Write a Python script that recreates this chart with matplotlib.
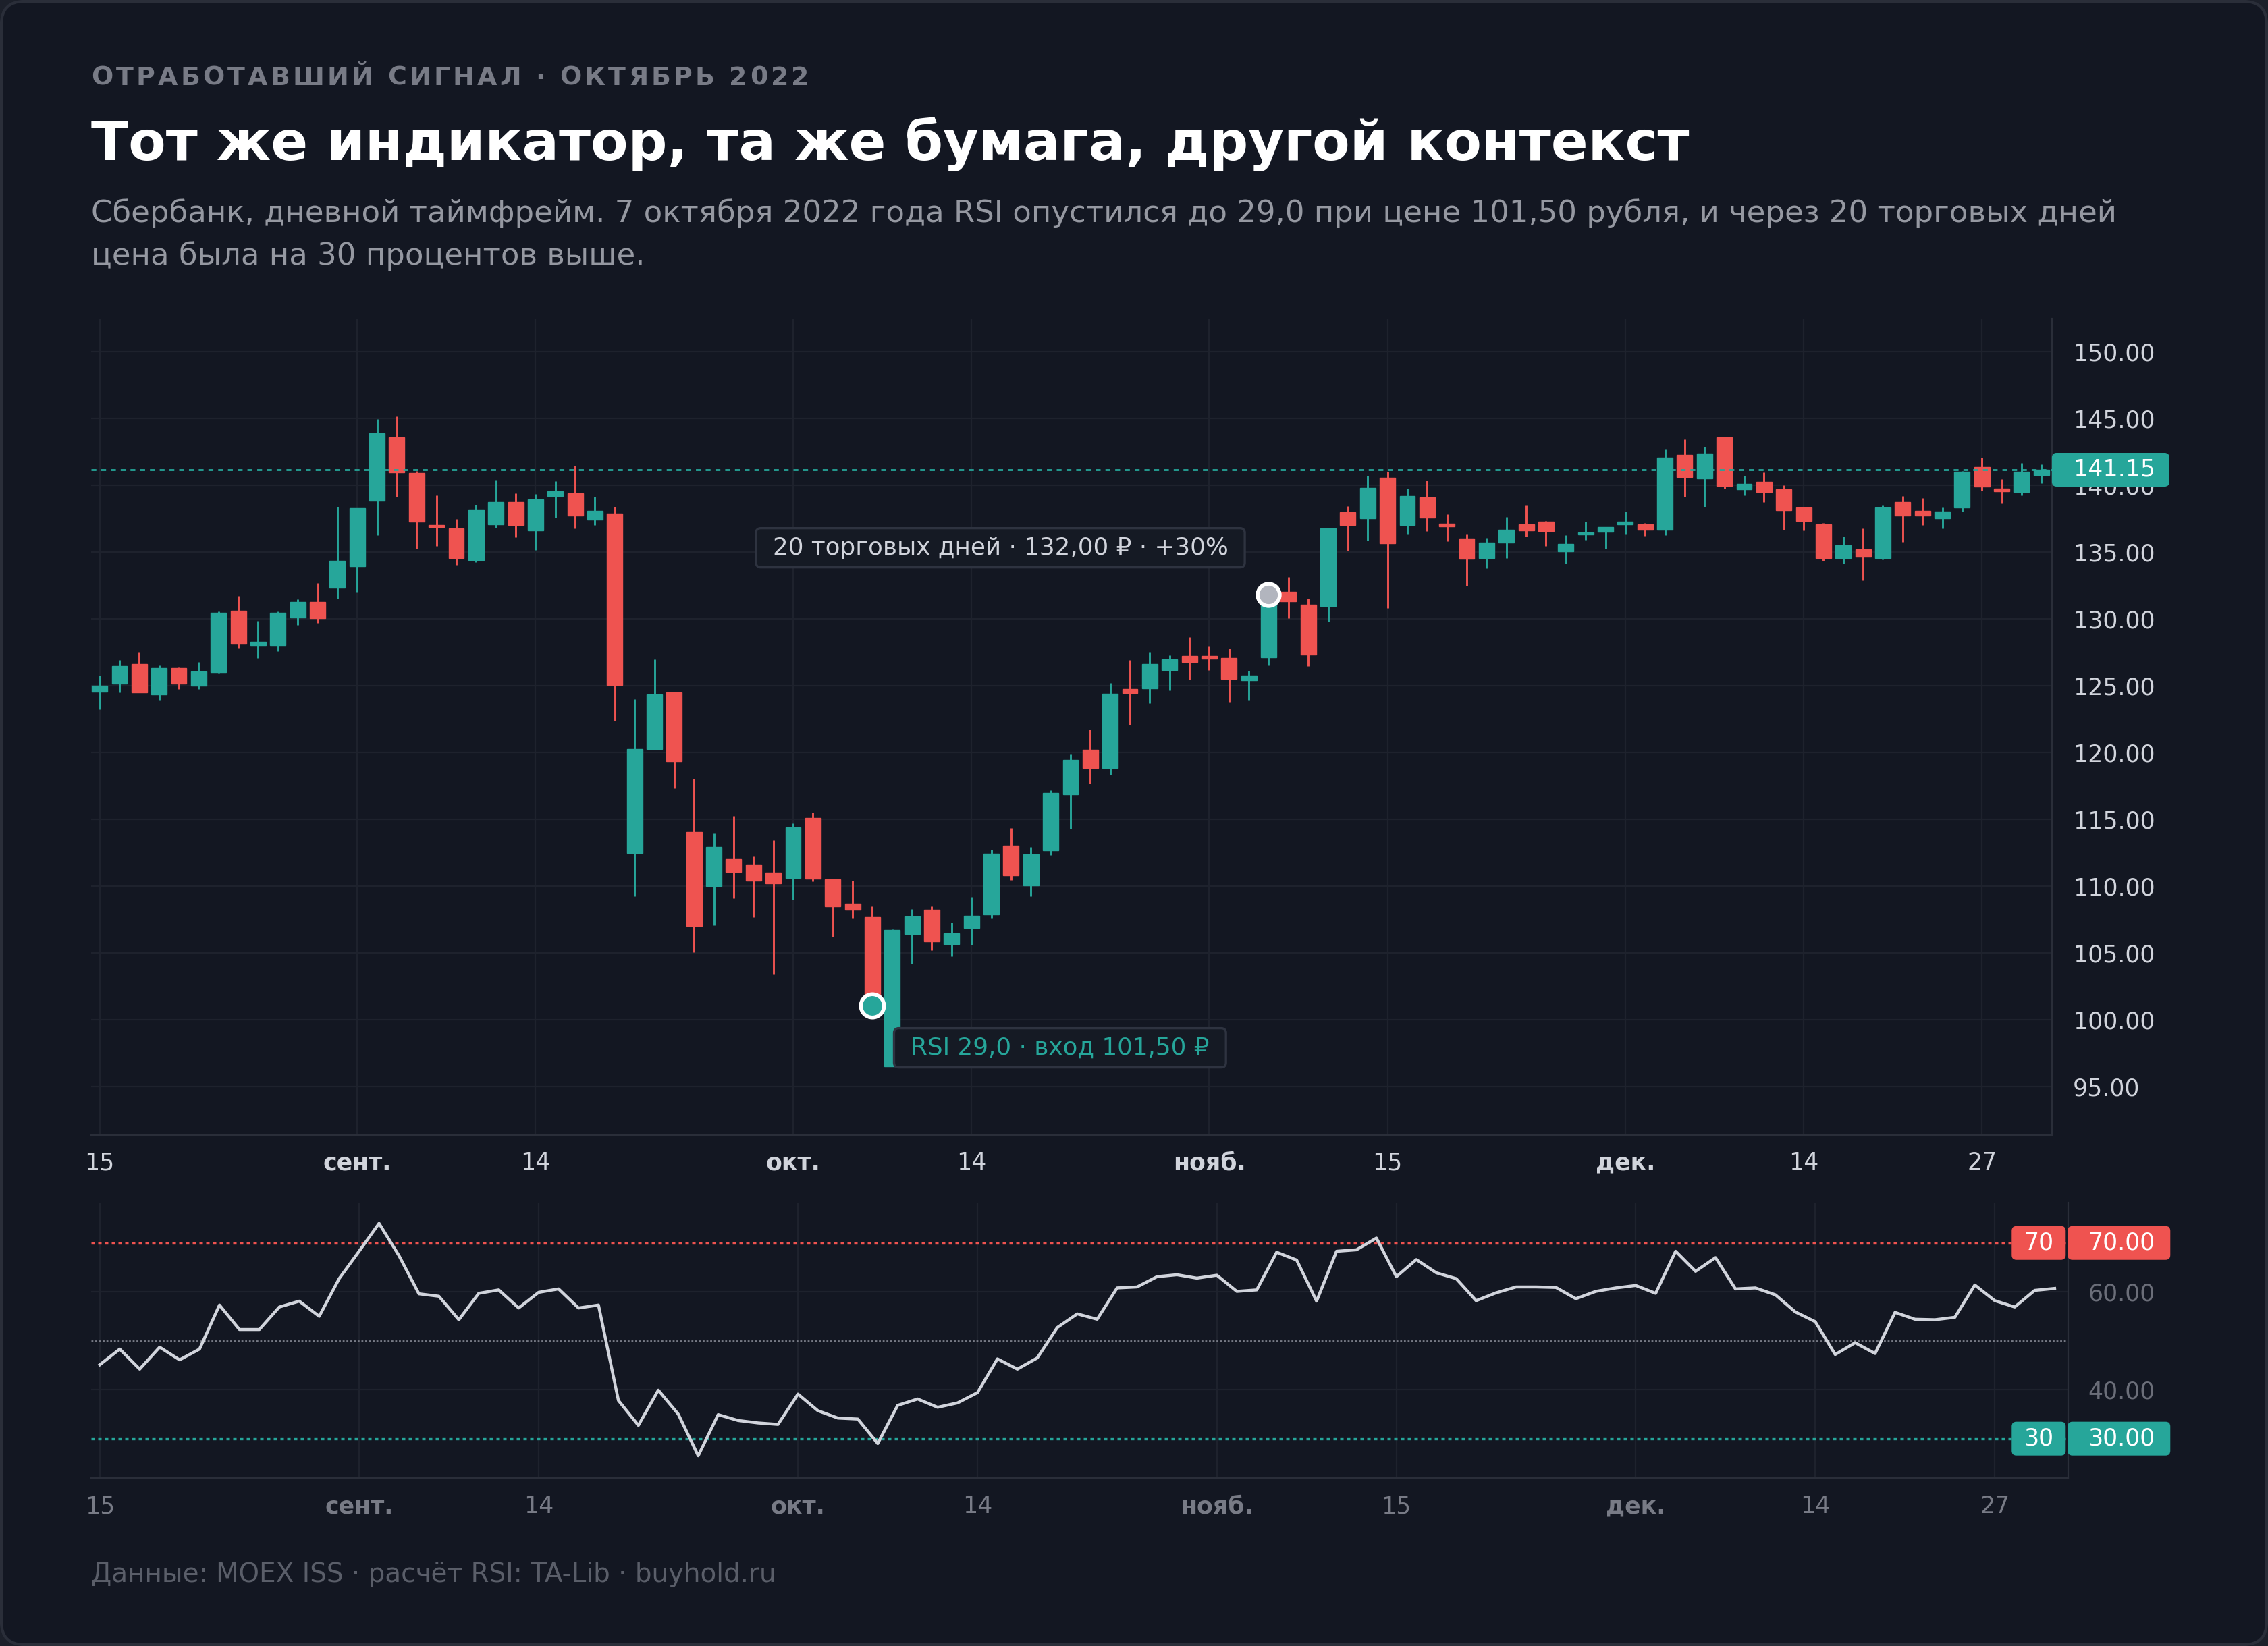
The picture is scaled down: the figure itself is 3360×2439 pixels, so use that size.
import matplotlib
matplotlib.use('Agg')
import matplotlib.pyplot as plt
import numpy as np
from matplotlib.patches import FancyBboxPatch
from matplotlib.transforms import IdentityTransform

plt.rcParams['font.family'] = ['DejaVu Sans', 'Noto Sans']

# ---------------- data ----------------
tick_idx = [0, 13, 22, 35, 44, 56, 65, 77, 86, 95]
tick_labels = ['15', 'сент.', '14', 'окт.', '14', 'нояб.', '15', 'дек.', '14', '27']
tick_bold = [False, True, False, True, False, True, False, True, False, False]

opens = [124.55, 125.16, 126.62, 124.35, 126.32, 124.96, 126.01, 130.61, 128.03, 128.00,
         130.11, 131.23, 132.29, 133.95, 138.81, 143.56, 140.92, 136.99, 136.73, 134.40,
         137.04, 138.75, 136.58, 139.17, 139.40, 137.40, 137.89, 112.44, 120.22, 124.48,
         114.01, 109.98, 112.00, 111.60, 110.99, 110.61, 115.08, 110.47, 108.67, 107.68,
         96.51, 106.41, 108.23, 105.66, 106.87, 107.88, 113.03, 110.05, 112.68, 116.87,
         120.21, 118.84, 124.72, 124.76, 126.13, 127.22, 127.22, 127.08, 125.38, 127.10,
         132.03, 131.06, 130.97, 137.95, 137.51, 140.52, 137.00, 139.10, 137.12, 136.01,
         134.51, 135.67, 137.04, 137.24, 135.02, 136.30, 136.48, 137.04, 137.04, 136.63,
         142.24, 140.47, 143.55, 139.66, 140.22, 139.71, 138.30, 137.04, 134.51, 135.17,
         134.51, 138.75, 138.05, 137.49, 138.30, 141.33, 139.76, 139.46, 140.77]
highs = [125.72, 126.88, 127.49, 126.52, 126.37, 126.73, 130.52, 131.68, 129.85, 130.52,
         131.43, 132.64, 138.36, 138.25, 144.93, 145.13, 141.06, 139.21, 137.44, 138.50,
         140.41, 139.40, 139.31, 140.30, 141.43, 139.11, 138.38, 123.99, 126.95, 124.54,
         118.01, 113.92, 115.23, 112.21, 113.43, 114.67, 115.49, 110.47, 110.38, 108.49,
         106.75, 108.28, 108.48, 107.27, 109.19, 112.73, 114.34, 112.93, 117.17, 119.90,
         121.71, 125.20, 126.91, 127.53, 127.28, 128.64, 127.98, 127.78, 126.11, 132.10,
         133.14, 131.51, 136.73, 138.44, 140.71, 141.02, 139.76, 140.36, 137.84, 136.32,
         136.03, 137.59, 138.45, 137.29, 136.23, 137.24, 136.84, 138.00, 137.14, 142.69,
         143.40, 142.85, 143.65, 140.72, 140.93, 139.97, 138.30, 137.14, 136.13, 136.78,
         138.45, 139.16, 139.01, 138.30, 141.03, 142.04, 140.42, 141.68, 141.53]
lows = [123.23, 124.49, 124.49, 123.90, 124.71, 124.71, 125.97, 127.83, 127.08, 127.58,
        129.51, 129.66, 131.48, 131.99, 136.23, 139.12, 135.22, 135.42, 134.01, 134.21,
        136.79, 136.12, 135.16, 137.57, 136.76, 137.02, 122.37, 109.22, 120.22, 117.32,
        105.01, 107.04, 109.07, 107.68, 103.39, 108.99, 110.32, 106.17, 107.54, 101.05,
        96.47, 104.19, 105.20, 104.75, 105.61, 107.58, 110.42, 109.24, 112.32, 114.29,
        117.65, 118.31, 122.08, 123.65, 124.62, 125.42, 126.13, 123.75, 123.90, 126.48,
        130.05, 126.44, 129.78, 135.10, 135.84, 130.81, 136.32, 136.56, 135.82, 132.48,
        133.80, 134.51, 136.13, 135.42, 134.11, 135.88, 135.22, 136.28, 136.18, 136.23,
        139.11, 138.35, 139.76, 139.21, 138.70, 136.63, 136.58, 134.31, 134.11, 132.85,
        134.41, 135.77, 136.99, 136.78, 138.00, 139.56, 138.60, 139.21, 140.12]
closes = [125.00, 126.43, 124.49, 126.32, 125.16, 126.06, 130.42, 128.14, 128.28, 130.42,
          131.23, 130.02, 134.31, 138.25, 143.86, 140.97, 137.24, 136.88, 134.51, 138.19,
          138.75, 136.99, 138.94, 139.52, 137.69, 138.09, 125.06, 120.25, 124.34, 119.35,
          107.01, 112.91, 111.05, 110.38, 110.18, 114.38, 110.55, 108.46, 108.20, 101.05,
          106.70, 107.73, 105.86, 106.46, 107.78, 112.42, 110.81, 112.37, 116.97, 119.44,
          118.80, 124.39, 124.41, 126.62, 126.97, 126.75, 127.03, 125.47, 125.75, 131.80,
          131.28, 127.30, 136.73, 137.00, 139.80, 135.64, 139.20, 137.55, 136.89, 134.48,
          135.67, 136.63, 136.58, 136.53, 135.57, 136.43, 136.84, 137.24, 136.63, 142.04,
          140.57, 142.34, 139.92, 140.07, 139.46, 138.10, 137.29, 134.51, 135.47, 134.61,
          138.30, 137.74, 137.69, 138.00, 140.98, 139.87, 139.51, 140.98, 141.15]
rsi = [45.1, 48.3, 44.2, 48.7, 46.1, 48.3, 57.3, 52.3, 52.3, 56.9,
       58.1, 55.0, 62.7, 68.3, 74.0, 67.4, 59.6, 59.1, 54.3, 59.7,
       60.4, 56.7, 59.9, 60.6, 56.7, 57.3, 37.8, 32.7, 39.9, 35.0,
       26.5, 34.9, 33.7, 33.2, 32.9, 39.1, 35.7, 34.2, 34.0, 29.0,
       36.8, 38.1, 36.4, 37.3, 39.4, 46.3, 44.2, 46.5, 52.7, 55.5,
       54.4, 60.8, 61.0, 63.1, 63.5, 62.8, 63.4, 60.1, 60.4, 68.1,
       66.5, 58.1, 68.3, 68.6, 71.0, 63.1, 66.6, 63.9, 62.7, 58.2,
       59.8, 61.0, 61.0, 60.9, 58.6, 60.1, 60.8, 61.3, 59.7, 68.3,
       64.2, 67.0, 60.6, 60.8, 59.4, 55.9, 53.9, 47.2, 49.6, 47.4,
       55.8, 54.4, 54.3, 54.8, 61.4, 58.2, 56.9, 60.3, 60.7]

price_ticks = [95, 100, 105, 110, 115, 120, 125, 130, 135, 140, 145, 150]
rsi_ticks = [40, 60]
rsi_upper, rsi_mid, rsi_lower = 70, 50, 30
last_price = 141.15
entry_idx, exit_idx = 39, 59
entry_text = 'RSI 29,0 · вход 101,50 ₽'
exit_text = '20 торговых дней · 132,00 ₽ · +30%'

header = 'ОТРАБОТАВШИЙ СИГНАЛ · ОКТЯБРЬ 2022'
title = 'Тот же индикатор, та же бумага, другой контекст'
sub1 = ('Сбербанк, дневной таймфрейм. 7 октября 2022 года RSI опустился до 29,0 при цене '
        '101,50 рубля, и через 20 торговых дней')
sub2 = 'цена была на 30 процентов выше.'
footer = 'Данные: MOEX ISS · расчёт RSI: TA-Lib · buyhold.ru'

# ---------------- style ----------------
BG = '#131722'
GRID = '#1e222d'
SPINE = '#2a2e39'
UP = '#26a69a'
DOWN = '#ef5350'
TXT = '#d1d4dc'
DIM = '#787b86'

W, H, DPI = 3360, 2439, 200
S = W / 1568.0  # reference display px -> output px

fig = plt.figure(figsize=(W / DPI, H / DPI), dpi=DPI, facecolor='#1c202a')
card = FancyBboxPatch((2, 2), W - 4, H - 4, boxstyle='round,pad=0,rounding_size=34',
                      transform=IdentityTransform(), fc=BG, ec=SPINE, lw=1.5, zorder=-5)
fig.add_artist(card)


def fy(d):
    return 1 - d / 1138.0


def fx(d):
    return d / 1568.0


# ---------------- price panel ----------------
ax = fig.add_axes([fx(63), fy(785), fx(1418.6) - fx(63), fy(220) - fy(785)])
ax.set_facecolor('none')
o, h, l, c = (np.array(v) for v in (opens, highs, lows, closes))
x = np.arange(len(c))
col = np.where(c >= o, UP, DOWN)
ax.vlines(x, l, h, colors=col, lw=1.05, zorder=3)
ax.bar(x, np.abs(c - o), bottom=np.minimum(o, c), width=0.78, color=col,
       edgecolor=col, lw=0.5, zorder=4)
ax.axhline(last_price, color=UP, lw=1.0, ls=(0, (2.6, 2.6)), zorder=5)
ax.set_xlim(-0.43, 98.53)
ax.set_ylim(91.32, 152.49)
ax.set_yticks(price_ticks)
ax.set_yticklabels([f'{v:.2f}' for v in price_ticks])
ax.yaxis.tick_right()
ax.tick_params(axis='y', length=0, pad=11.2, labelsize=12.5, labelcolor=TXT)
ax.set_xticks(tick_idx)
ax.set_xticklabels(tick_labels)
ax.tick_params(axis='x', length=0, pad=8.5, labelsize=12.5, labelcolor=TXT)
for lab, b in zip(ax.get_xticklabels(), tick_bold):
    lab.set_fontweight('bold' if b else 'normal')
ax.grid(True, color=GRID, lw=0.8)
ax.set_axisbelow(True)
for s in ['top', 'left']:
    ax.spines[s].set_visible(False)
for s in ['right', 'bottom']:
    ax.spines[s].set_color(SPINE)
    ax.spines[s].set_linewidth(0.8)

ax.plot(entry_idx, c[entry_idx], 'o', ms=12.4, mfc=UP, mec='white', mew=2, zorder=6)
ax.plot(exit_idx, c[exit_idx], 'o', ms=11.8, mfc='#b2b5be', mec='white', mew=2, zorder=6)

t_exit = ax.annotate(exit_text, xy=(exit_idx, c[exit_idx]), xytext=(-21.6, 25),
                     textcoords='offset points', ha='right', va='center',
                     fontsize=12.9, color=TXT, zorder=8)
t_entry = ax.annotate(entry_text, xy=(entry_idx, c[entry_idx]), xytext=(20.4, -22.6),
                      textcoords='offset points', ha='left', va='center',
                      fontsize=12.9, color=UP, zorder=8)

# ---------------- RSI panel ----------------
ax2 = fig.add_axes([fx(63), fy(1022), fx(1430) - fx(63), fy(831.6) - fy(1022)])
ax2.set_facecolor('none')
ax2.plot(x, rsi, color=TXT, lw=1.6, zorder=4)
ax2.axhline(rsi_upper, color=DOWN, lw=1.2, ls=(0, (1.5, 1.5)), zorder=3)
ax2.axhline(rsi_lower, color=UP, lw=1.2, ls=(0, (1.5, 1.5)), zorder=3)
ax2.axhline(rsi_mid, color=DIM, lw=1.0, ls=(0, (1, 1)), zorder=3)
ax2.set_xlim(-0.435, 98.69)
ax2.set_ylim(21.9, 78.2)
ax2.set_yticks(rsi_ticks)
ax2.set_yticklabels([f'{v:.2f}' for v in rsi_ticks])
ax2.yaxis.tick_right()
ax2.tick_params(axis='y', length=0, pad=10.4, labelsize=12.5, labelcolor='#6b6e79')
ax2.set_xticks(tick_idx)
ax2.set_xticklabels(tick_labels)
ax2.tick_params(axis='x', length=0, pad=9.0, labelsize=12.5, labelcolor=DIM)
for lab, b in zip(ax2.get_xticklabels(), tick_bold):
    lab.set_fontweight('bold' if b else 'normal')
ax2.grid(True, color=GRID, lw=0.8)
ax2.set_axisbelow(True)
for s in ['top', 'left']:
    ax2.spines[s].set_visible(False)
for s in ['right', 'bottom']:
    ax2.spines[s].set_color(SPINE)
    ax2.spines[s].set_linewidth(0.8)

# ---------------- texts ----------------
fig.canvas.draw()
R = fig.canvas.get_renderer()
ID = IdentityTransform()


def spaced(x_px, y_px, s, spacing, **kw):
    def w(txt):
        t = fig.text(0, 0, txt + '|', transform=ID, **kw)
        ww = t.get_window_extent(R).width
        t.remove()
        return ww
    base = w('')
    for k, ch in enumerate(s):
        if ch == ' ':
            continue
        xk = x_px + (w(s[:k]) - base) + k * spacing
        fig.text(xk, y_px, ch, transform=ID, ha='left', va='baseline', **kw)


X0 = 63 * S
spaced(X0, H - 58.8 * S, header, 4.2, fontsize=13.7, fontweight='bold', color=DIM)
fig.text(X0, H - 110.7 * S, title, transform=ID, ha='left', va='baseline',
         fontsize=29.1, fontweight='bold', color='white')
fig.text(X0, H - 153.3 * S, sub1, transform=ID, ha='left', va='baseline',
         fontsize=16.2, color='#9598a1')
fig.text(X0, H - 182.8 * S, sub2, transform=ID, ha='left', va='baseline',
         fontsize=16.2, color='#9598a1')
fig.text(X0, H - 1094 * S, footer, transform=ID, ha='left', va='baseline',
         fontsize=14.0, color='#5a5e69')


def rbox(axx, x0, y0, w, h, fc, ec='none', lw=0, z=7):
    p = FancyBboxPatch((x0, y0), w, h, boxstyle='round,pad=0,rounding_size=7',
                       transform=ID, fc=fc, ec=ec, lw=lw, zorder=z)
    if axx is None:
        fig.add_artist(p)
    else:
        axx.add_patch(p)
    return p


# annotation boxes
for t in (t_exit, t_entry):
    bb = t.get_window_extent(R)
    padx, pady = 24.6, 12
    rbox(ax, bb.x0 - padx, bb.y0 - pady, bb.width + 2 * padx, bb.height + 2 * pady,
         fc='#151a24', ec='#2e3340', lw=1.2, z=7)

# last price box
sx = ax.transAxes.transform((1, 0))[0]
py = ax.transData.transform((0, last_price))[1]
bh = 50
rbox(None, sx, py - bh / 2, 174, bh, fc=UP, z=5)
fig.text(sx + 31, py, f'{last_price:.2f}', transform=ID, ha='left', va='center',
         fontsize=12.5, color='white', zorder=6)

# RSI level boxes
sx2 = ax2.transAxes.transform((1, 0))[0]
for lvl, fc in ((rsi_upper, DOWN), (rsi_lower, UP)):
    yy = ax2.transData.transform((0, lvl))[1]
    rbox(None, sx2 - 84, yy - bh / 2, 80, bh, fc=fc, z=5)
    rbox(None, sx2 - 1, yy - bh / 2, 152, bh, fc=fc, z=5)
    fig.text(sx2 - 44, yy, f'{lvl}', transform=ID, ha='center', va='center',
             fontsize=12.5, color='white', zorder=6)
    fig.text(sx2 + 29, yy, f'{lvl:.2f}', transform=ID, ha='left', va='center',
             fontsize=12.5, color='white', zorder=6)

fig.savefig('out.png', dpi=DPI, facecolor=fig.get_facecolor())
